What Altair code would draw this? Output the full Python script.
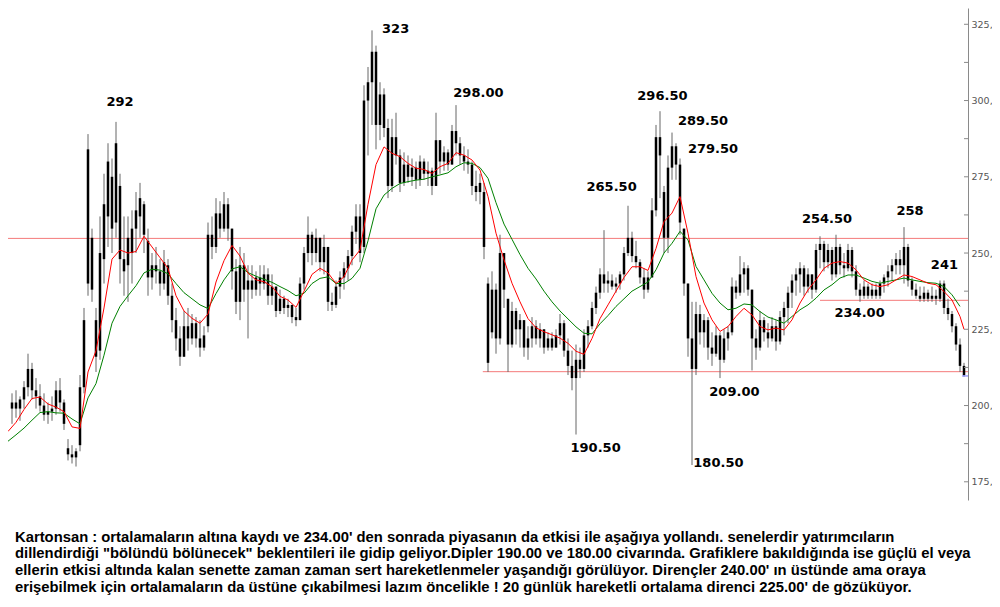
import altair as alt
import pandas as pd

# ---------------- data ----------------
FIRST_DAY = 3  # one candle every "day"; day index -> 4 px in the reference

LOW = [194, 196, 195, 199, 203, 202, 199, 198, 195, 194,
       195, 197, 198, 192, 182, 181, 180, 185, 204, 236,
       234, 211, 215, 240, 252, 250, 255, 240, 236, 234,
       240, 250, 255, 250, 236, 238, 240, 236, 238, 233,
       224, 218, 213, 216, 218, 220, 219, 216, 218, 224,
       248, 250, 255, 257, 254, 238, 230, 228, 234, 222,
       235, 236, 236, 238, 233, 233, 229, 230, 230, 229,
       227, 226, 228, 238, 247, 246, 247, 244, 243, 231,
       231, 232, 235, 238, 241, 246, 253, 247, 250, 282,
       292, 284, 287, 288, 268, 270, 279, 270, 272, 273,
       272, 271, 272, 274, 272, 269, 272, 276, 277, 277,
       279, 282, 279, 277, 276, 269, 267, 266, 248, 211,
       222, 217, 220, 232, 211, 219, 220, 219, 216, 215,
       219, 220, 219, 217, 218, 218, 219, 220, 216, 210,
       205, 190.5, 209, 211, 219, 225, 230, 235, 237, 237,
       238, 237, 238, 241, 249, 247, 245, 240, 235, 237,
       242, 262, 268, 250, 250, 274, 274, 256, 236, 216,
       180.5, 210, 220, 219, 215, 213, 216, 209, 214, 218,
       223, 235, 236, 237, 236, 211.5, 215, 218, 221, 219,
       221, 218, 220, 223, 227, 232, 236, 237, 236, 237,
       235, 237, 245, 244, 245, 241, 242, 243, 242, 244,
       242, 236, 234, 235, 235, 235, 235, 235, 237, 239,
       241, 243, 243, 240, 239, 236, 235, 234, 234, 234,
       234, 233, 234, 230, 228, 224, 218, 211, 209.5]

HIGH = [204, 205, 203, 208, 217, 214, 209, 207, 204, 201,
        203, 208, 209, 202, 189, 187, 186, 210, 232, 289,
        258, 232, 262, 276, 286, 281, 293, 276, 262, 262,
        264, 270, 273, 267, 258, 250, 252, 248, 251, 248,
        240, 232, 226, 231, 232, 230, 229, 228, 226, 260,
        262, 268, 267, 270, 268, 258, 248, 252, 250, 246,
        246, 244, 246, 246, 245, 243, 239, 238, 236, 235,
        233, 232, 242, 252, 262, 257, 258, 255, 256, 252,
        237, 241, 244, 247, 251, 259, 266, 266, 305, 311,
        323, 318, 306, 304, 294, 294, 296, 284, 283, 282,
        281, 280, 282, 281, 280, 278, 296, 287, 285, 284,
        292, 298.5, 288, 285, 284, 280, 277, 276, 273, 242,
        244, 240, 256, 250, 235, 234, 232, 230, 228, 226,
        229, 228, 227, 225, 224, 224, 225, 230, 228, 222,
        218, 220, 219, 225, 228, 234, 239, 245, 257.5, 244,
        243, 242, 244, 252, 265.5, 257, 254, 248, 245, 244,
        268, 292, 296.5, 272, 282, 289.5, 286, 281, 258, 240,
        234, 234, 233, 230, 229, 224, 226, 224, 225, 226,
        242, 241, 249, 247, 246, 238, 225, 231, 229, 227,
        229, 228, 231, 234, 239, 243, 245, 247, 246, 245,
        243, 253, 255.5, 254, 253, 252, 256, 253, 250, 253,
        252, 246, 240, 241, 240, 240, 240, 241, 243, 246,
        248, 250, 251, 258.5, 253, 242, 240, 239, 239, 238,
        239, 238, 241, 241, 235, 231, 227, 222, 214]

OPEN = [199, 201, 199, 202, 206, 212, 205, 203, 200, 197,
        198, 199, 205, 201, 186, 184, 183, 187, 206, 240,
        255, 228, 218, 248, 262, 275, 260, 272, 248, 246,
        250, 258, 262, 266, 254, 242, 246, 244, 240, 246,
        236, 228, 222, 216, 226, 222, 227, 222, 219, 226,
        256, 252, 263, 258, 266, 258, 244, 234, 246, 238,
        241, 238, 242, 240, 243, 236, 239, 231, 235, 232,
        233, 229, 228, 240, 250, 256, 250, 255, 247, 252,
        234, 233, 239, 242, 245, 249, 257, 262, 252, 300,
        306, 316, 292, 302, 291, 272, 288, 282, 273, 279,
        275, 278, 274, 280, 276, 277, 272, 287, 280, 283,
        279, 290, 286, 282, 280, 279, 272, 270, 270, 240,
        224, 238, 222, 250, 235, 220, 231, 225, 228, 219,
        222, 226, 222, 225, 219, 222, 219, 223, 227, 218,
        213, 209, 215, 212, 223, 226, 232, 237, 243, 240,
        241, 239, 240, 243, 250, 255, 249, 247, 242, 238,
        242, 264, 288, 270, 255, 278, 285, 279, 258, 240,
        222, 212, 230, 224, 228, 219, 217, 223, 215, 222,
        224, 239, 237, 243, 245, 238, 222, 219, 228, 224,
        222, 226, 221, 229, 232, 237, 241, 243, 245, 239,
        243, 238, 251, 253, 247, 251, 243, 252, 246, 245,
        251, 244, 238, 236, 239, 236, 238, 236, 240, 242,
        244, 246, 248, 246, 252, 241, 238, 236, 235, 237,
        235, 236, 235, 240, 232, 230, 226, 220, 213]

CLOSE = [201, 199, 202, 206, 212, 205, 203, 200, 197, 198,
         199, 205, 201, 194, 184, 183, 185, 206, 228, 284,
         238, 216, 250, 266, 280, 258, 286, 248, 244, 255,
         258, 264, 268, 256, 242, 246, 244, 240, 247, 236,
         228, 222, 216, 226, 222, 227, 222, 219, 223, 256,
         252, 263, 258, 266, 258, 244, 234, 246, 238, 241,
         238, 242, 240, 243, 236, 239, 231, 235, 232, 233,
         229, 228, 240, 250, 256, 250, 255, 247, 252, 234,
         233, 239, 242, 245, 249, 257, 262, 250, 300, 306,
         316, 292, 302, 291, 272, 288, 282, 273, 279, 275,
         278, 274, 280, 276, 277, 272, 287, 280, 283, 279,
         290, 286, 282, 280, 279, 272, 270, 273, 252, 214,
         238, 222, 250, 238, 220, 231, 225, 228, 219, 222,
         226, 222, 225, 219, 222, 219, 223, 227, 218, 213,
         209, 215, 212, 223, 226, 232, 237, 243, 240, 241,
         239, 240, 243, 250, 255, 249, 247, 242, 238, 242,
         264, 288, 282, 255, 278, 285, 279, 260, 240, 222,
         212, 230, 224, 228, 219, 217, 223, 215, 222, 224,
         239, 237, 243, 245, 238, 222, 219, 228, 224, 222,
         226, 221, 229, 232, 237, 241, 243, 245, 239, 243,
         238, 251, 253, 247, 251, 243, 252, 246, 245, 251,
         244, 238, 236, 239, 236, 238, 236, 240, 242, 244,
         246, 248, 246, 252, 241, 238, 236, 235, 237, 235,
         236, 235, 240, 232, 230, 226, 220, 213, 210]

# moving averages, one reading every 2 days (red = short, green = long)
MA_FAST = [191.5, 194.5, 198.7, 202.3, 202.8, 200.5, 199.5, 198.0, 193.0, 192.5,
           211.0, 218.0, 232.0, 248.0, 251.0, 250.0, 250.5, 255.5, 252.0, 248.5,
           245.0, 236.0, 231.0, 228.6, 227.0, 230.0, 240.5, 247.5, 252.5, 249.0,
           243.4, 241.2, 240.6, 239.0, 235.8, 234.6, 232.2, 237.5, 243.0, 245.0,
           243.5, 240.0, 242.2, 247.7, 251.0, 266.0, 279.0, 284.8, 282.7, 281.6,
           279.4, 277.8, 277.4, 276.1, 278.3, 279.4, 282.9, 282.1, 280.5, 277.2,
           268.5, 256.5, 247.8, 240.1, 234.0, 228.5, 225.5, 224.2, 223.2, 222.1,
           220.4, 217.8, 216.8, 222.0, 228.5, 233.0, 237.5, 242.0, 245.5, 245.5,
           244.3, 251.5, 260.3, 263.1, 268.5, 256.5, 242.3, 233.6, 228.1, 224.3,
           225.9, 229.2, 231.9, 229.7, 225.9, 224.8, 225.4, 224.8, 228.1, 233.6,
           237.9, 241.2, 245.0, 246.7, 247.2, 246.7, 244.5, 241.2, 239.6, 239.0,
           239.6, 241.2, 242.8, 242.3, 241.2, 240.1, 239.6, 237.4, 234.6, 229.2,
           225.0]

MA_SLOW = [188.3, 190.4, 192.6, 195.2, 197.7, 198.0, 197.6, 197.5, 195.6, 194.0,
           202.5, 207.2, 216.5, 227.0, 232.5, 236.0, 239.3, 243.5, 244.7, 244.4,
           243.2, 240.0, 237.0, 235.0, 233.0, 231.8, 236.7, 241.2, 244.8, 245.5,
           243.6, 242.4, 241.4, 240.4, 239.0, 237.7, 236.0, 236.8, 240.0, 241.7,
           242.2, 240.0, 240.0, 241.7, 245.0, 254.0, 264.5, 269.0, 271.2, 272.8,
           273.4, 273.9, 274.2, 275.0, 275.6, 276.3, 278.3, 279.6, 279.4, 278.0,
           274.5, 266.5, 259.5, 254.5, 249.5, 245.0, 241.5, 237.5, 234.0, 231.0,
           228.4, 225.8, 223.7, 223.5, 226.8, 229.5, 232.5, 235.0, 237.5, 239.0,
           240.5, 244.5, 250.0, 253.2, 257.1, 254.3, 245.6, 241.2, 236.8, 233.6,
           231.4, 231.9, 233.3, 233.0, 230.8, 229.0, 228.1, 227.0, 229.2, 231.4,
           233.0, 235.2, 237.9, 239.6, 241.8, 242.8, 242.8, 241.8, 240.7, 240.1,
           240.7, 241.2, 241.8, 241.2, 240.7, 240.3, 240.1, 239.0, 236.3, 232.5]

# horizontal support / resistance lines: level, first day, last day
LEVELS = [254.8, 234.5, 211.1]
LEVEL_FROM = [2, 205, 120.7]
LEVEL_TO = [242, 242, 242]

# annotations
ANNOT_TEXT = ["292", "323", "298.00", "265.50", "296.50", "289.50", "279.50",
              "254.50", "258", "241", "234.00", "209.00", "180.50", "190.50"]
ANNOT_DAY = [30, 98.9, 119.6, 152.9, 165.6, 175.75, 178.25,
             206.75, 227.5, 236.1, 214.9, 183.6, 179.6, 148.9]
ANNOT_VALUE = [299.4, 323.3, 302.5, 271.7, 301.4, 293.3, 284.2,
               261.2, 263.8, 246.0, 230.4, 204.3, 181.2, 186.0]

Y_TICKS = [175, 200, 225, 250, 275, 300, 325]
Y_MINOR = [187.5, 212.5, 237.5, 262.5, 287.5, 312.5]
LAST_MARK = 209.7

TEXT_LINES = [
    "Kartonsan : ortalamaların altına kaydı ve 234.00' den sonrada piyasanın da etkisi ile aşağıya yollandı. senelerdir yatırımcıların",
    "dillendirdiği \"bölündü bölünecek\" beklentileri ile gidip geliyor.Dipler 190.00 ve 180.00 civarında. Grafiklere bakıldığında ise güçlü el veya",
    "ellerin etkisi altında kalan senette zaman zaman sert hareketlenmeler yaşandığı görülüyor. Dirençler 240.00' ın üstünde ama oraya",
    "erişebilmek için ortalamaların da üstüne çıkabilmesi lazım öncelikle ! 20 günlük hareketli ortalama direnci 225.00' de gözüküyor.",
]

# ---------------- frames ----------------
bars = pd.DataFrame({
    "day": list(range(FIRST_DAY, FIRST_DAY + len(LOW))),
    "low": LOW, "high": HIGH, "open": OPEN, "close": CLOSE,
})
fast = pd.DataFrame({"day": list(range(2, 241, 2)) + [241], "v": MA_FAST})
slow = pd.DataFrame({"day": list(range(2, 241, 2)), "v": MA_SLOW})
levels = pd.DataFrame({"v": LEVELS, "d0": LEVEL_FROM, "d1": LEVEL_TO})
annots = pd.DataFrame({"t": ANNOT_TEXT, "day": ANNOT_DAY, "v": ANNOT_VALUE})
ticks = pd.DataFrame({"v": Y_TICKS + Y_MINOR})

xs = alt.Scale(domain=[2, 242], nice=False, zero=False)
ys = alt.Scale(domain=[169.03, 330.34], nice=False, zero=False)

y_axis = alt.Axis(orient="right", values=Y_TICKS, labelExpr="datum.label + ','",
                  ticks=False, tickSize=0, labelPadding=3, grid=False, title=None,
                  labelFont="DejaVu Sans", labelFontSize=9.5, labelColor="#555555",
                  domainColor="#8a8a8a", domainWidth=1, labelBaseline="middle")


def X(field):
    return alt.X(field, type="quantitative", scale=xs, axis=None)


def Y(field):
    return alt.Y(field, type="quantitative", scale=ys, axis=y_axis)


hlines = alt.Chart(levels).mark_rule(color="#f47a7a", strokeWidth=1).encode(
    x=X("d0"), x2="d1", y=Y("v"))

wicks = alt.Chart(bars).mark_rule(color="#666666", strokeWidth=1).encode(
    x=X("day"), y=Y("low"), y2="high")

bodies = alt.Chart(bars).mark_rule(color="#000000", strokeWidth=2.5).encode(
    x=X("day"), y=Y("open"), y2="close")

slow_line = alt.Chart(slow).mark_line(color="#008000", strokeWidth=1).encode(
    x=X("day"), y=Y("v"))
fast_line = alt.Chart(fast).mark_line(color="#ff0000", strokeWidth=1).encode(
    x=X("day"), y=Y("v"))

tick_rules = alt.Chart(ticks).mark_rule(color="#8a8a8a", strokeWidth=1).encode(
    x=alt.value(956), x2=alt.value(960), y=Y("v"))

last_mark = alt.Chart(pd.DataFrame({"v": [LAST_MARK]})).mark_rule(
    color="#7070ff", strokeWidth=1).encode(x=alt.value(954), x2=alt.value(960), y=Y("v"))

labels = alt.Chart(annots).mark_text(
    font="DejaVu Sans", fontSize=13, fontWeight="bold", color="#000000",
    align="center", baseline="middle").encode(x=X("day"), y=Y("v"), text="t:N")

text_layers = []
for i, line in enumerate(TEXT_LINES):
    text_layers.append(
        alt.Chart(pd.DataFrame({"t": [line]})).mark_text(
            font="Liberation Sans", fontSize=14.8, fontWeight="bold", color="#000000",
            align="left", baseline="alphabetic").encode(
            x=alt.value(7), y=alt.value(533.7 + 16.6 * i), text="t:N"))

chart = alt.layer(hlines, wicks, bodies, slow_line, fast_line, tick_rules, last_mark,
                  labels, *text_layers).properties(
    width=960, height=492,
    padding={"left": 0, "top": 0, "right": 24, "bottom": 99},
    autosize=alt.AutoSizeParams(type="none"),
    background="#ffffff",
).configure_view(stroke=None)

chart.save("out.html", embed_options={"renderer": "svg", "actions": False})
